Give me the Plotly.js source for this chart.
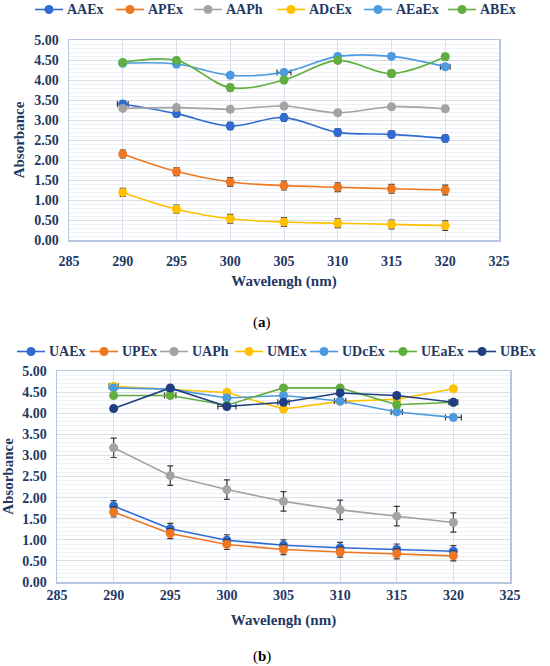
<!DOCTYPE html>
<html><head><meta charset="utf-8">
<script src="https://cdn.plot.ly/plotly-3.0.1.min.js"></script>
<style>html,body{margin:0;padding:0;background:#fff}#c{width:550px;height:666px}</style>
</head><body><div id="c"></div>
<script>
const wavelengths = [290, 295, 300, 305, 310, 315, 320];

// (a)
const AAEx  = [3.40, 3.16, 2.85, 3.06, 2.69, 2.64, 2.54];
const APEx  = [2.15, 1.71, 1.45, 1.36, 1.32, 1.28, 1.25];
const AAPh  = [3.29, 3.31, 3.27, 3.35, 3.18, 3.33, 3.28];
const ADcEx = [1.19, 0.77, 0.53, 0.45, 0.42, 0.39, 0.36];
const AEaEx = [4.42, 4.40, 4.12, 4.19, 4.59, 4.59, 4.33];
const ABEx  = [4.44, 4.49, 3.81, 4.00, 4.49, 4.16, 4.58];
const errA = {
  AAEx:  [0.08, 0.08, 0.09, 0.09, 0.09, 0.09, 0.09],
  APEx:  [0.10, 0.10, 0.11, 0.11, 0.11, 0.11, 0.12],
  AAPh:  [0.05, 0.04, 0.04, 0.04, 0.04, 0.04, 0.05],
  ADcEx: [0.10, 0.10, 0.11, 0.11, 0.11, 0.11, 0.12],
  AEaEx: [0.04, 0.05, 0.06, 0.05, 0.04, 0.04, 0.06],
  ABEx:  [0.06, 0.07, 0.08, 0.07, 0.06, 0.08, 0.08]
};
const errAx = {
  AAEx:  [0.5, 0, 0, 0, 0, 0, 0],
  AEaEx: [0, 0, 0, 0.65, 0, 0, 0.45],
  ABEx:  [0, 0, 0, 0, 0, 0.3, 0]
};

// (b)
const UAEx  = [1.80, 1.26, 0.99, 0.87, 0.81, 0.77, 0.73];
const UPEx  = [1.66, 1.15, 0.89, 0.77, 0.71, 0.67, 0.62];
const UAPh  = [3.18, 2.52, 2.19, 1.91, 1.71, 1.56, 1.41];
const UMEx  = [4.64, 4.57, 4.49, 4.10, 4.28, 4.33, 4.58];
const UDcEx = [4.60, 4.57, 4.36, 4.42, 4.29, 4.03, 3.90];
const UEaEx = [4.42, 4.42, 4.19, 4.60, 4.60, 4.20, 4.26];
const UBEx  = [4.11, 4.60, 4.16, 4.26, 4.48, 4.42, 4.26];
const errB = {
  UAEx:  [0.13, 0.13, 0.13, 0.13, 0.13, 0.13, 0.13],
  UPEx:  [0.12, 0.12, 0.12, 0.12, 0.12, 0.12, 0.12],
  UAPh:  [0.23, 0.23, 0.23, 0.23, 0.23, 0.23, 0.23],
  UMEx:  [0.05, 0.04, 0.05, 0.04, 0.04, 0.04, 0.04],
  UDcEx: [0.04, 0.04, 0.05, 0.04, 0.05, 0.06, 0.05],
  UEaEx: [0.04, 0.05, 0.04, 0.03, 0.03, 0.05, 0.04],
  UBEx:  [0.04, 0.04, 0.06, 0.06, 0.05, 0.04, 0.04]
};
const errBx = {
  UMEx:  [0.4, 0, 0, 0, 0, 0, 0],
  UEaEx: [0, 0.5, 0, 0, 0, 0, 0],
  UBEx:  [0, 0, 0.8, 0.5, 0, 0, 0.4],
  UDcEx: [0, 0, 0, 0, 0.5, 0.5, 0.7]
};

const C = {
  blue: '#2F6BD1', orange: '#EE7722', gray: '#A3A3A3', gold: '#FFC000',
  light: '#4C9BE0', green: '#60AE3E', navy: '#1F3F80'
};
const txt = '#1F3864';
const F = '"Liberation Serif", "DejaVu Serif", serif';

function tr(name, y, color, err, errx, axis, shape) {
  const t = {
    x: wavelengths, y: y, name: name, type: 'scatter', mode: 'lines+markers',
    xaxis: axis === 1 ? 'x' : 'x2', yaxis: axis === 1 ? 'y' : 'y2',
    showlegend: false,
    line: {color: color, width: 1.6, shape: shape, smoothing: 1},
    marker: {color: color, size: 9},
    error_y: {type: 'data', array: err, visible: true, color: '#3a3a3a', thickness: 1.2, width: 3}
  };
  if (errx) t.error_x = {type: 'data', array: errx, visible: true, color: '#3a3a3a', thickness: 1.2, width: 3};
  return t;
}

const seriesA = [
  ['AAEx', AAEx, C.blue, errA.AAEx, errAx.AAEx],
  ['APEx', APEx, C.orange, errA.APEx, null],
  ['AAPh', AAPh, C.gray, errA.AAPh, null],
  ['ADcEx', ADcEx, C.gold, errA.ADcEx, null],
  ['AEaEx', AEaEx, C.light, errA.AEaEx, errAx.AEaEx],
  ['ABEx', ABEx, C.green, errA.ABEx, errAx.ABEx]
];
const seriesB = [
  ['UAEx', UAEx, C.blue, errB.UAEx, null],
  ['UPEx', UPEx, C.orange, errB.UPEx, null],
  ['UAPh', UAPh, C.gray, errB.UAPh, null],
  ['UMEx', UMEx, C.gold, errB.UMEx, errBx.UMEx],
  ['UDcEx', UDcEx, C.light, errB.UDcEx, errBx.UDcEx],
  ['UEaEx', UEaEx, C.green, errB.UEaEx, errBx.UEaEx],
  ['UBEx', UBEx, C.navy, errB.UBEx, errBx.UBEx]
];

const data = [
  ...seriesA.map(s => tr(s[0], s[1], s[2], s[3], s[4], 1, 'spline')),
  ...seriesB.map(s => tr(s[0], s[1], s[2], s[3], s[4], 2, 'linear'))
];

const W = 550, H = 666;
const px = v => v / W, py = v => 1 - v / H;
const tickFont = {family: F, size: 14, color: txt, weight: 'bold'};
const titleFont = {family: F, size: 15, color: txt, weight: 'bold'};

function xax(dom, anchor, tls, st) {
  return {
    domain: dom, anchor: anchor, range: [285, 325], dtick: 5, tick0: 285,
    showgrid: true, gridcolor: '#D9DFEA', gridwidth: 1,
    showline: true, linecolor: '#B7C6E0', linewidth: 1.5, mirror: true,
    zeroline: false, ticks: '', tickfont: tickFont, ticklabelstandoff: tls,
    title: {text: 'Wavelengh (nm)', font: titleFont, standoff: st}
  };
}
function yax(dom, anchor) {
  return {
    domain: dom, anchor: anchor, range: [0, 5], dtick: 0.5, tickformat: '.2f',
    showgrid: true, gridcolor: '#D9DFEA', gridwidth: 1,
    minor: {dtick: 0.1, showgrid: true, gridcolor: '#EEF1F6', gridwidth: 1},
    showline: true, linecolor: '#B7C6E0', linewidth: 1.5, mirror: true,
    zeroline: false, ticks: '', tickfont: tickFont, ticklabelstandoff: 6,
    title: {text: 'Absorbance', font: titleFont, standoff: 6}
  };
}

// manual legends (layout positions in px)
const legendA = {y: 9.5, starts: [35, 116, 194, 277, 364, 448]};
const legendB = {y: 351.5, starts: [17, 90, 160, 235, 310, 389, 468]};
const shapes = [], annotations = [];
function addLegend(series, lg) {
  series.forEach((s, i) => {
    const x0 = lg.starts[i], x1 = x0 + 28, cx = x0 + 14, r = 4.5;
    shapes.push({type: 'line', xref: 'paper', yref: 'paper', x0: px(x0), x1: px(x1), y0: py(lg.y), y1: py(lg.y),
      line: {color: s[2], width: 1.6}});
    shapes.push({type: 'circle', xref: 'paper', yref: 'paper', x0: px(cx - r), x1: px(cx + r), y0: py(lg.y + r), y1: py(lg.y - r),
      fillcolor: s[2], line: {color: s[2], width: 0}});
    annotations.push({text: s[0], xref: 'paper', yref: 'paper', x: px(x1 + 2), y: py(lg.y), xanchor: 'left', yanchor: 'middle',
      showarrow: false, font: {family: F, size: 14, color: txt, weight: 'bold'}});
  });
}
addLegend(seriesA, legendA);
addLegend(seriesB, legendB);
annotations.push(
  {text: '(<b>a</b>)', x: px(262), y: py(322), xref: 'paper', yref: 'paper', showarrow: false,
    xanchor: 'center', yanchor: 'middle', font: {family: F, size: 15, color: '#000'}},
  {text: '(<b>b</b>)', x: px(262), y: py(656), xref: 'paper', yref: 'paper', showarrow: false,
    xanchor: 'center', yanchor: 'middle', font: {family: F, size: 15, color: '#000'}}
);

const layout = {
  width: W, height: H, margin: {l: 0, r: 0, t: 0, b: 0, autoexpand: false},
  paper_bgcolor: '#fff', plot_bgcolor: '#fff', showlegend: false,
  font: {family: F, color: txt},
  xaxis: xax([px(69), px(499)], 'y', 8, 7),
  yaxis: yax([py(240), py(40)], 'x'),
  xaxis2: xax([px(57), px(510)], 'y2', 0, 12),
  yaxis2: yax([py(582), py(371)], 'x2'),
  shapes: shapes,
  annotations: annotations
};

Plotly.newPlot('c', data, layout, {displayModeBar: false, staticPlot: true});
</script></body></html>
